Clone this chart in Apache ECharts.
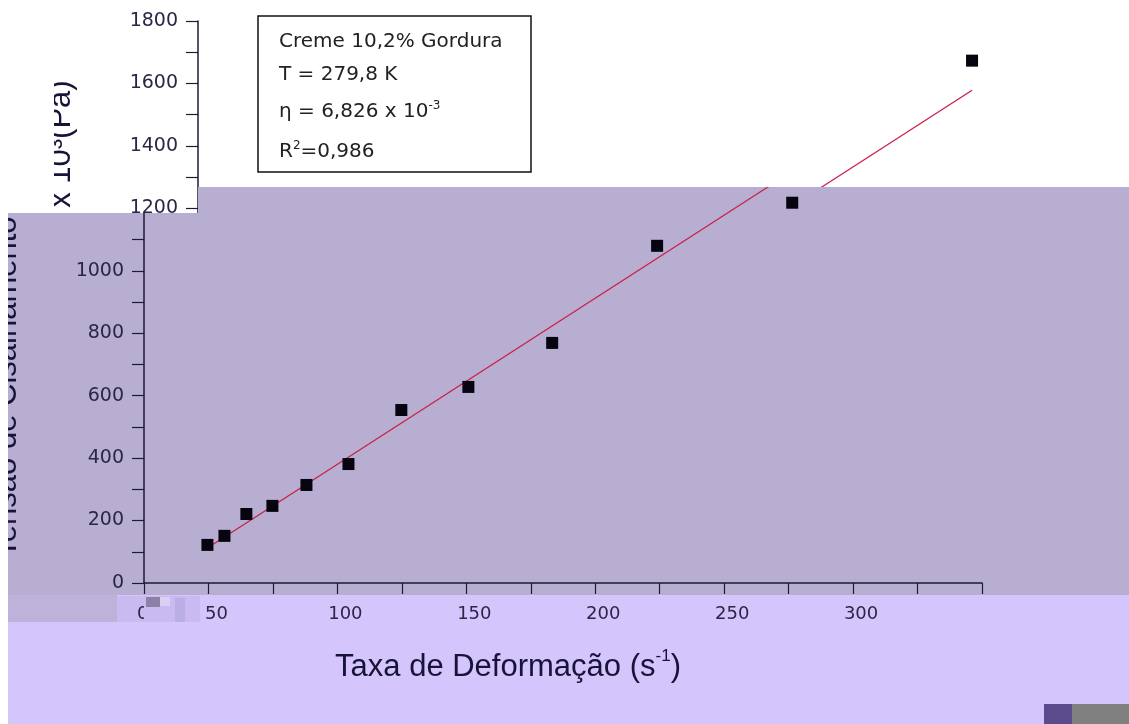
<!DOCTYPE html>
<html>
<head>
<meta charset="utf-8">
<script src="https://cdn.jsdelivr.net/npm/echarts@6/dist/echarts.min.js"></script>
<style>
  html, body { margin: 0; padding: 0; background: #ffffff; }
  #stage { position: relative; width: 1129px; height: 724px; overflow: hidden; background: #ffffff; }
  .abs { position: absolute; }
</style>
</head>
<body>
<div id="stage">
  <!-- background bands -->
  <div class="abs" style="left:0;top:0;width:1129px;height:595px;background:#b7aed2"></div>
  <div class="abs" style="left:0;top:595px;width:1129px;height:129px;background:#d4c5fc"></div>
  <div class="abs" style="left:0;top:595px;width:117px;height:27px;background:#bdb2da"></div>
  <!-- main chart -->
  <div id="base" class="abs" style="left:0;top:0;width:1129px;height:724px"></div>
  <!-- glitch patches over the main chart -->
  <div class="abs" style="left:117px;top:596px;width:83px;height:26px;background:#c9bbf2"></div>
  <div class="abs" style="left:137px;top:602px;width:7px;height:22px;overflow:hidden;font:18px 'DejaVu Sans';line-height:22px;color:#2b2645">0</div>
  <div class="abs" style="left:146px;top:597px;width:14px;height:10px;background:#8b81a6"></div>
  <div class="abs" style="left:160px;top:597px;width:10px;height:9px;background:#d9d0f5"></div>
  <div class="abs" style="left:175px;top:598px;width:10px;height:24px;background:#b9aee6"></div>
  <div class="abs" style="left:0;top:213px;width:8px;height:511px;background:#ffffff"></div>
  <!-- shifted top band -->
  <div id="topclip" class="abs" style="left:0;top:0;width:1129px;height:213px;overflow:hidden;background:#ffffff;clip-path:polygon(0px 0px,1129px 0px,1129px 187px,198px 187px,198px 213px,0px 213px)">
    <div id="top" class="abs" style="left:54px;top:0;width:1129px;height:724px"></div>
  </div>
  <!-- bottom right blocks -->
  <div class="abs" style="left:1044px;top:704px;width:28px;height:20px;background:#5b4b8c"></div>
  <div class="abs" style="left:1072px;top:704px;width:57px;height:20px;background:#808080"></div>
</div>
<script>
// ---- data ----
const shearRate = [49.6, 56.2, 64.7, 74.8, 88.0, 104.3, 124.8, 150.8, 183.3, 224.0, 276.4, 325.2];
const shearStress = [122, 151, 221, 247, 314, 381, 554, 628, 769, 1080, 1218, 1673];
const fitRate = [49.6, 325.2];
const fitStress = [112, 1578];
const xTickLabels = [50, 100, 150, 200, 250, 300];
const yTickLabels = [0, 200, 400, 600, 800, 1000, 1200, 1400, 1600, 1800];
const xTitle = 'Taxa de Deformação (s{sup|-1})';
const yTitle = 'Tensão de Cisalhamento x 10³(Pa)';
const boxLines = ['Creme 10,2% Gordura', 'T = 279,8 K', 'η = 6,826 x 10{sup|-3}', 'R{sup|2}=0,986'];

const ink = '#1e1a33';
const labelColor = '#2b2645';
const titleColor = '#181338';
const tickFont = 'DejaVu Sans';
const titleFont = '"Liberation Sans", Arial, sans-serif';

function buildOption() {
  const boxTextY = [42, 75, 112, 152];
  const graphics = [
    {
      type: 'text', x: 7, y: 319, rotation: Math.PI / 2, z: 10,
      style: {
        text: yTitle, textAlign: 'center', textVerticalAlign: 'middle',
        fill: titleColor, font: '31px ' + titleFont
      }
    },
    {
      type: 'text', x: 508, y: 667, z: 10,
      style: {
        text: xTitle, textAlign: 'center', textVerticalAlign: 'middle',
        fill: titleColor, font: '31px ' + titleFont,
        rich: {
          sup: { fontSize: 17, fontFamily: 'Liberation Sans', fill: titleColor, verticalAlign: 'top', lineHeight: 12 }
        },
        lineHeight: 38
      }
    },
    {
      type: 'rect', z: 10,
      shape: { x: 204, y: 16, width: 273, height: 156 },
      style: { fill: '#ffffff', stroke: '#111111', lineWidth: 1.5 }
    }
  ];
  boxLines.forEach(function (t, i) {
    graphics.push({
      type: 'text', x: 225, y: boxTextY[i], z: 11,
      style: {
        text: t, textAlign: 'left', textVerticalAlign: 'middle',
        fill: '#222222', font: '20px ' + tickFont,
        rich: { sup: { fontSize: 12, fontFamily: tickFont, fill: '#222222', verticalAlign: 'top', lineHeight: 8 } },
        lineHeight: 24
      }
    });
  });

  return {
    animation: false,
    backgroundColor: 'transparent',
    grid: { left: 144, right: 147, top: 21, bottom: 141, containLabel: false, outerBoundsMode: 'none' },
    xAxis: {
      type: 'value', min: 25, max: 350, interval: 25,
      axisLine: { onZero: false, lineStyle: { color: ink, width: 1.5 } },
      axisTick: { length: 11, lineStyle: { color: ink, width: 1.2 } },
      splitLine: { show: false },
      axisLabel: {
        margin: 22, padding: [0, 0, 0, 16], color: labelColor, fontFamily: tickFont, fontSize: 18,
        showMinLabel: true, showMaxLabel: true,
        formatter: function (v) { return xTickLabels.indexOf(v) >= 0 ? String(v) : ''; }
      }
    },
    yAxis: {
      type: 'value', min: 0, max: 1800, interval: 100,
      axisLine: { show: true, onZero: false, lineStyle: { color: ink, width: 1.5 } },
      axisTick: { show: true, length: 12, lineStyle: { color: ink, width: 1.2 } },
      splitLine: { show: false },
      axisLabel: {
        margin: 20, color: labelColor, fontFamily: tickFont, fontSize: 19,
        showMinLabel: true, showMaxLabel: true,
        formatter: function (v) { return yTickLabels.indexOf(v) >= 0 ? String(v) : ''; }
      }
    },
    series: [
      {
        type: 'line', showSymbol: false, silent: true, z: 2,
        data: fitRate.map(function (x, i) { return [x, fitStress[i]]; }),
        lineStyle: { color: '#cc1f45', width: 1.3 }
      },
      {
        type: 'scatter', symbol: 'rect', symbolSize: 12, z: 3,
        data: shearRate.map(function (x, i) { return [x, shearStress[i]]; }),
        itemStyle: { color: '#05040f', opacity: 1 }
      }
    ],
    graphic: graphics
  };
}

const base = echarts.init(document.getElementById('base'), null, { renderer: 'canvas' });
base.setOption(buildOption());
const topView = echarts.init(document.getElementById('top'), null, { renderer: 'canvas' });
topView.setOption(buildOption());
</script>
</body>
</html>
